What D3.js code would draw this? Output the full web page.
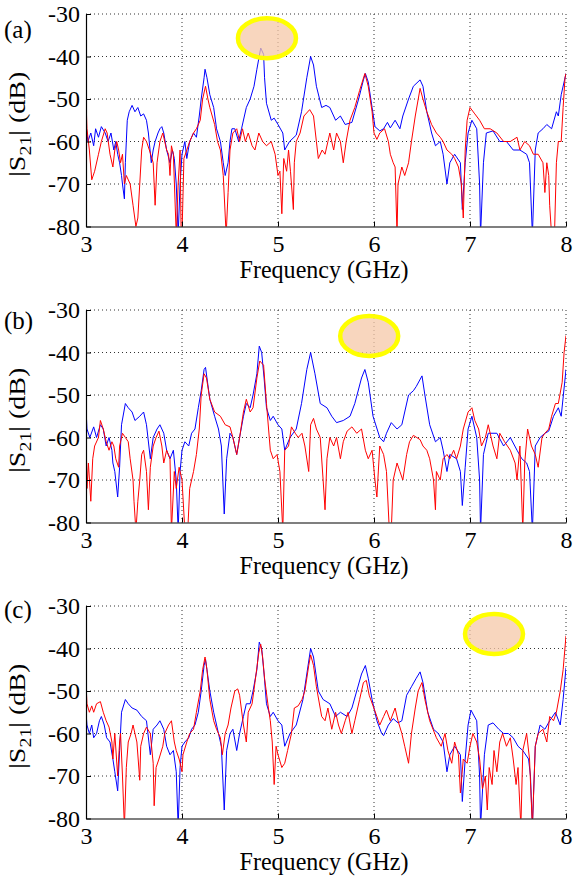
<!DOCTYPE html>
<html><head><meta charset="utf-8">
<script src="https://cdn.jsdelivr.net/npm/d3@7"></script>
<style>
body{margin:0;background:#fff}
svg{display:block}
text{font-family:"Liberation Serif","Times New Roman",Times,"DejaVu Serif","Noto Serif",serif;fill:#000}
</style>
</head><body>
<svg id="chart" width="573" height="879"></svg>
<script>
// ---------- data ----------
const panelLabels = ["(a)", "(b)", "(c)"];
const xTicks = [3, 4, 5, 6, 7, 8];
const yTicks = [-30, -40, -50, -60, -70, -80];
const xTitle = "Frequency (GHz)";
// highlighted ellipse centres (GHz, dB)
const markF = [4.885, 5.95, 7.25];
const markDb = [-35.7, -36.1, -36.6];

const aBlue = [[3.00,-56],[3.02,-60],[3.05,-58],[3.08,-61],[3.10,-57],[3.13,-59],[3.16,-56.5],[3.20,-58],[3.23,-60],[3.26,-58],[3.29,-62],[3.31,-60],[3.33,-63],[3.35,-65],[3.37,-68],[3.38,-70],[3.40,-73.5],[3.41,-65],[3.42,-60],[3.43,-55],[3.45,-53],[3.48,-51.5],[3.51,-53],[3.54,-52],[3.57,-54],[3.60,-53.5],[3.63,-55],[3.65,-58],[3.68,-65],[3.70,-62],[3.72,-60],[3.75,-58],[3.77,-57],[3.79,-56.5],[3.81,-58],[3.84,-62],[3.875,-65],[3.90,-62],[3.92,-64],[3.94,-70],[3.96,-82],[3.98,-70],[4.00,-63],[4.03,-60],[4.05,-64],[4.08,-60],[4.12,-58],[4.15,-59],[4.18,-54],[4.20,-50],[4.23,-45],[4.24,-43],[4.26,-45],[4.29,-49],[4.33,-52],[4.36,-57],[4.40,-60],[4.43,-65],[4.45,-68],[4.48,-65],[4.50,-60],[4.52,-57],[4.55,-57],[4.59,-60],[4.62,-57],[4.67,-52],[4.71,-50],[4.75,-47],[4.78,-43],[4.82,-38],[4.85,-39.5],[4.86,-45],[4.88,-51],[4.93,-55],[4.96,-54.5],[5.00,-56],[5.05,-58],[5.07,-62],[5.12,-60],[5.19,-58.5],[5.245,-53],[5.30,-45],[5.34,-40],[5.37,-42],[5.40,-47],[5.455,-52],[5.50,-51.5],[5.54,-52],[5.60,-55],[5.65,-54],[5.70,-56],[5.77,-55.5],[5.84,-50],[5.89,-45.5],[5.91,-44],[5.94,-46],[5.98,-52],[6.01,-56.5],[6.06,-57.5],[6.10,-57],[6.14,-55.5],[6.17,-56.8],[6.22,-55],[6.27,-57],[6.30,-54],[6.36,-50],[6.41,-47],[6.48,-45.5],[6.51,-47],[6.55,-53],[6.60,-58],[6.64,-61],[6.69,-60],[6.72,-63],[6.76,-70],[6.79,-65],[6.84,-63],[6.90,-65],[6.92,-76],[6.95,-65],[6.98,-58],[7.02,-55],[7.07,-57],[7.10,-70],[7.11,-82],[7.14,-65],[7.17,-58],[7.24,-57.5],[7.31,-60],[7.38,-60],[7.45,-62],[7.52,-62],[7.59,-63],[7.62,-65],[7.65,-82],[7.68,-62],[7.71,-58],[7.76,-57],[7.80,-56],[7.85,-57],[7.90,-53],[7.92,-54],[7.95,-49],[8.00,-44]];
const aRed = [[3.00,-50],[3.01,-57],[3.035,-62],[3.06,-69],[3.09,-67],[3.13,-63],[3.16,-60],[3.20,-57],[3.22,-58],[3.25,-63],[3.28,-66],[3.30,-62],[3.32,-60],[3.34,-62],[3.36,-65],[3.38,-63],[3.40,-70],[3.42,-68],[3.46,-70],[3.49,-75],[3.52,-80],[3.54,-78],[3.56,-70],[3.58,-62],[3.60,-59],[3.63,-60],[3.66,-62],[3.70,-65],[3.72,-75],[3.74,-65],[3.77,-60],[3.80,-58],[3.84,-62],[3.86,-63],[3.875,-68],[3.89,-61],[3.91,-63],[3.94,-82],[3.96,-70],[3.98,-62],[3.99,-80],[4.00,-82],[4.02,-64],[4.05,-62],[4.08,-60],[4.12,-58],[4.15,-57],[4.19,-55],[4.215,-50],[4.245,-47],[4.27,-50],[4.29,-52],[4.34,-56],[4.37,-60],[4.40,-62],[4.43,-68],[4.46,-82],[4.48,-72],[4.50,-62],[4.53,-58],[4.57,-57],[4.60,-60],[4.63,-57],[4.66,-60],[4.69,-58],[4.73,-61],[4.76,-62],[4.80,-58],[4.84,-60],[4.88,-61],[4.93,-60],[4.97,-63],[5.00,-68],[5.02,-67],[5.04,-77],[5.06,-64],[5.09,-67],[5.11,-62],[5.13,-67],[5.16,-76],[5.17,-65],[5.19,-60],[5.23,-58],[5.27,-54],[5.33,-52.5],[5.37,-54],[5.40,-60],[5.42,-64],[5.46,-62],[5.49,-63],[5.52,-60],[5.54,-58],[5.58,-62],[5.61,-58],[5.65,-60],[5.68,-65],[5.71,-60],[5.75,-55],[5.80,-52],[5.85,-48],[5.905,-44],[5.94,-47],[5.98,-53],[6.00,-58],[6.03,-59.5],[6.06,-58],[6.11,-57],[6.15,-60],[6.17,-63],[6.20,-65],[6.22,-66],[6.24,-82],[6.25,-70],[6.29,-66],[6.32,-68],[6.36,-65],[6.39,-60],[6.43,-54],[6.48,-47.5],[6.51,-50],[6.55,-53],[6.60,-56],[6.65,-58],[6.69,-59],[6.72,-60],[6.76,-62],[6.81,-63],[6.84,-64],[6.88,-66],[6.91,-70],[6.93,-78],[6.95,-62],[6.97,-55],[7.00,-52],[7.05,-53.5],[7.10,-55],[7.15,-57],[7.21,-57],[7.28,-58],[7.35,-60],[7.42,-60],[7.49,-59],[7.52,-62],[7.57,-60],[7.62,-61],[7.66,-63],[7.71,-63],[7.76,-65],[7.78,-72],[7.80,-65],[7.82,-68],[7.83,-75],[7.85,-82],[7.88,-82],[7.90,-65],[7.92,-60],[7.95,-60],[7.97,-52],[7.99,-45],[8.00,-44]];

const bBlue = [[3.00,-53],[3.01,-58],[3.04,-60],[3.08,-57.5],[3.11,-60],[3.15,-57],[3.18,-58],[3.21,-62],[3.24,-60],[3.27,-63],[3.28,-66],[3.30,-68],[3.33,-74],[3.35,-67],[3.37,-57],[3.41,-52],[3.44,-53],[3.48,-54],[3.51,-56],[3.56,-55],[3.60,-54],[3.63,-57],[3.67,-65],[3.70,-60],[3.74,-58],[3.77,-57],[3.81,-59],[3.84,-63],[3.875,-65],[3.91,-63],[3.94,-70],[3.96,-82],[3.98,-68],[4.00,-63],[4.03,-61],[4.07,-62],[4.10,-59],[4.135,-58],[4.17,-53],[4.20,-49],[4.23,-44],[4.245,-43.5],[4.26,-46],[4.29,-51],[4.34,-55],[4.38,-58],[4.41,-62],[4.44,-78],[4.465,-65],[4.50,-59],[4.53,-60],[4.57,-64],[4.60,-60],[4.64,-55],[4.67,-52],[4.71,-53],[4.74,-50],[4.78,-45],[4.805,-38.5],[4.83,-40],[4.855,-46],[4.88,-53],[4.92,-56],[4.95,-55],[5.00,-57],[5.04,-58],[5.07,-63],[5.125,-60],[5.19,-58],[5.245,-52],[5.30,-44],[5.34,-40],[5.385,-45],[5.44,-52],[5.51,-53],[5.56,-55],[5.61,-56.5],[5.68,-56],[5.75,-55],[5.80,-52],[5.87,-46],[5.905,-44],[5.94,-47],[5.99,-55],[6.06,-60],[6.10,-61],[6.13,-59],[6.18,-56.5],[6.24,-58],[6.29,-57],[6.36,-50],[6.41,-49],[6.44,-48],[6.50,-45.5],[6.53,-50],[6.58,-57],[6.64,-61],[6.69,-60],[6.72,-63],[6.76,-68],[6.79,-64],[6.86,-65],[6.90,-68],[6.92,-76],[6.95,-67],[6.98,-58],[7.02,-55],[7.07,-60],[7.10,-70],[7.11,-82],[7.14,-64],[7.19,-59],[7.28,-59],[7.35,-62],[7.42,-60],[7.49,-63],[7.54,-65],[7.59,-66],[7.62,-68],[7.65,-82],[7.68,-62],[7.73,-60],[7.78,-59],[7.82,-58.5],[7.87,-55],[7.92,-53],[7.95,-55],[8.00,-44]];
const bRed = [[3.00,-58],[3.01,-72],[3.025,-66],[3.05,-75],[3.07,-65],[3.09,-62],[3.13,-60],[3.15,-56],[3.18,-58],[3.21,-61],[3.24,-63],[3.27,-61],[3.29,-62],[3.31,-65],[3.34,-67],[3.35,-62],[3.38,-59],[3.41,-60],[3.44,-61],[3.46,-65],[3.49,-70],[3.50,-75],[3.52,-82],[3.54,-75],[3.56,-70],[3.58,-64],[3.60,-63],[3.63,-68],[3.65,-77],[3.67,-67],[3.70,-62],[3.73,-60],[3.76,-58.5],[3.79,-62],[3.81,-66],[3.84,-63],[3.875,-65],[3.89,-82],[3.92,-68],[3.94,-72],[3.97,-67],[4.00,-70],[4.03,-82],[4.06,-82],[4.08,-72],[4.12,-68],[4.15,-64],[4.18,-58],[4.20,-50],[4.23,-45],[4.255,-46],[4.29,-51],[4.34,-54],[4.40,-55],[4.45,-57],[4.50,-57.5],[4.53,-60],[4.57,-64],[4.60,-60],[4.64,-54],[4.67,-51],[4.71,-54],[4.74,-53],[4.78,-46],[4.81,-42],[4.85,-43],[4.88,-52],[4.92,-63],[4.95,-65],[4.99,-64],[5.02,-68],[5.05,-82],[5.07,-63],[5.11,-62],[5.14,-57.5],[5.18,-59],[5.21,-60],[5.25,-59],[5.28,-62],[5.32,-68],[5.34,-57],[5.37,-55.5],[5.40,-58],[5.44,-60],[5.47,-70],[5.49,-77],[5.51,-65],[5.54,-60],[5.58,-62],[5.61,-60],[5.65,-65],[5.68,-61],[5.72,-58.5],[5.77,-57.5],[5.82,-59],[5.87,-58],[5.91,-63],[5.94,-65],[5.98,-63],[6.01,-70],[6.03,-74],[6.06,-62],[6.10,-64],[6.13,-68],[6.16,-82],[6.18,-82],[6.20,-70],[6.24,-66],[6.27,-68],[6.30,-70],[6.34,-64],[6.37,-61],[6.41,-59.5],[6.48,-60.5],[6.51,-62],[6.55,-63],[6.58,-65],[6.62,-70],[6.64,-77],[6.65,-68],[6.69,-70],[6.72,-65],[6.76,-64],[6.79,-65],[6.83,-63],[6.86,-65],[6.90,-62],[6.93,-58],[6.98,-54],[7.02,-53],[7.05,-56],[7.09,-58],[7.12,-62],[7.16,-60],[7.19,-57],[7.24,-62],[7.28,-65],[7.31,-59],[7.36,-61],[7.42,-63],[7.47,-66],[7.49,-70],[7.52,-62],[7.55,-82],[7.57,-66],[7.60,-58],[7.64,-62],[7.68,-64],[7.71,-67],[7.75,-60],[7.78,-59],[7.82,-58],[7.85,-55],[7.89,-52],[7.92,-52],[7.96,-47],[7.98,-40],[8.00,-36]];

const cBlue = [[3.00,-55],[3.01,-58],[3.035,-60],[3.06,-58],[3.08,-61],[3.11,-60],[3.14,-57],[3.16,-56],[3.19,-58],[3.215,-61],[3.25,-62],[3.28,-66],[3.30,-69],[3.33,-73.5],[3.35,-64],[3.37,-55],[3.41,-52],[3.44,-53],[3.48,-54],[3.53,-54.5],[3.58,-56],[3.63,-57],[3.67,-65],[3.70,-59],[3.74,-58],[3.77,-57],[3.81,-59],[3.84,-63],[3.875,-65],[3.91,-64],[3.94,-69],[3.96,-82],[3.98,-68],[4.00,-63],[4.03,-62],[4.07,-61],[4.10,-59],[4.135,-58],[4.17,-55],[4.20,-50],[4.23,-44],[4.245,-42.5],[4.26,-45],[4.29,-50],[4.33,-55],[4.38,-60],[4.41,-63],[4.44,-78],[4.465,-64],[4.50,-60],[4.53,-59],[4.57,-64],[4.60,-60],[4.64,-56],[4.67,-53],[4.71,-53],[4.74,-50],[4.78,-45],[4.805,-38.5],[4.83,-40],[4.855,-46],[4.88,-53],[4.92,-56],[4.95,-55],[5.00,-57],[5.04,-58],[5.07,-63],[5.125,-60],[5.19,-58],[5.26,-52],[5.30,-46],[5.34,-40],[5.37,-42],[5.42,-50],[5.47,-52],[5.54,-53],[5.60,-56],[5.65,-55],[5.72,-56],[5.77,-54],[5.82,-50],[5.87,-46],[5.91,-44],[5.94,-47],[5.98,-52],[6.03,-57],[6.08,-60],[6.10,-60.5],[6.15,-58],[6.20,-56.5],[6.25,-57.5],[6.29,-57],[6.34,-51],[6.39,-49],[6.44,-47],[6.48,-45.5],[6.51,-48],[6.56,-55],[6.62,-59],[6.67,-60],[6.72,-62],[6.76,-69],[6.79,-65],[6.84,-63],[6.90,-65],[6.92,-76],[6.95,-66],[6.98,-58],[7.01,-54.5],[7.07,-57],[7.10,-70],[7.11,-82],[7.15,-65],[7.19,-58],[7.24,-57.5],[7.30,-59],[7.35,-60],[7.40,-60],[7.45,-61],[7.50,-63],[7.55,-64],[7.61,-66],[7.63,-70],[7.65,-82],[7.68,-63],[7.73,-58],[7.78,-59],[7.83,-57],[7.89,-55],[7.94,-58],[7.97,-52],[8.00,-44.5]];
const cRed = [[3.00,-48],[3.01,-53],[3.035,-55],[3.06,-53.5],[3.08,-55],[3.11,-53],[3.15,-52.5],[3.18,-55],[3.21,-57],[3.24,-58.5],[3.27,-62],[3.28,-66],[3.30,-60],[3.33,-70],[3.35,-62],[3.36,-60],[3.38,-70],[3.40,-82],[3.42,-68],[3.44,-62],[3.47,-60],[3.49,-58],[3.53,-62],[3.56,-71],[3.57,-63],[3.60,-60],[3.63,-58.5],[3.67,-60],[3.70,-67],[3.71,-77],[3.73,-68],[3.76,-66],[3.80,-63],[3.82,-60],[3.86,-58],[3.89,-57],[3.92,-62],[3.94,-64],[3.97,-66],[4.00,-69],[4.01,-65],[4.05,-62],[4.08,-60],[4.12,-59],[4.15,-55],[4.19,-50],[4.215,-45],[4.24,-42],[4.26,-45],[4.29,-52],[4.33,-57],[4.36,-59],[4.40,-61],[4.42,-65],[4.45,-60],[4.48,-58],[4.51,-54],[4.55,-50],[4.58,-49.5],[4.60,-51],[4.64,-58],[4.67,-62],[4.69,-55],[4.73,-53],[4.76,-48],[4.80,-41],[4.82,-39],[4.84,-42],[4.86,-47],[4.90,-54],[4.92,-57],[4.94,-62],[4.96,-72],[4.98,-63],[5.00,-65],[5.04,-68],[5.07,-67],[5.10,-64],[5.14,-60],[5.17,-54],[5.21,-53.5],[5.25,-52],[5.28,-50],[5.32,-44],[5.34,-41.5],[5.37,-44],[5.40,-49],[5.455,-56],[5.49,-57],[5.52,-54],[5.56,-59],[5.60,-55],[5.63,-58],[5.66,-60],[5.70,-57],[5.73,-55],[5.77,-60],[5.80,-57],[5.85,-52],[5.89,-48],[5.92,-47.5],[5.95,-51],[5.99,-53.5],[6.03,-56],[6.06,-58],[6.10,-56],[6.13,-54.5],[6.17,-57],[6.22,-54],[6.25,-57],[6.29,-60],[6.32,-63],[6.36,-67],[6.39,-60],[6.43,-54],[6.46,-50],[6.50,-48],[6.53,-52],[6.58,-57],[6.65,-61],[6.70,-63],[6.74,-60],[6.77,-64],[6.81,-67],[6.84,-62],[6.88,-65],[6.90,-74],[6.93,-66],[6.97,-67],[7.00,-63],[7.03,-60],[7.07,-62],[7.10,-66],[7.13,-73],[7.16,-70],[7.18,-78],[7.20,-68],[7.23,-72],[7.25,-64],[7.28,-69],[7.31,-62],[7.34,-60],[7.38,-63],[7.42,-61],[7.45,-66],[7.48,-72],[7.50,-68],[7.53,-82],[7.55,-64],[7.59,-60],[7.62,-66],[7.65,-82],[7.68,-63],[7.71,-60],[7.76,-59],[7.80,-62],[7.83,-56],[7.87,-57],[7.90,-55],[7.94,-50],[7.97,-45],[8.00,-37]];

const blueSeries = [aBlue, bBlue, cBlue];
const redSeries = [aRed, bRed, cRed];

// ---------- layout ----------
const L = 86, R = 566;
const tops = [14, 310, 606];
const PH = 212.5;
const FONT = "'Liberation Serif','Times New Roman',Times,'DejaVu Serif','Noto Serif',serif";

const svg = d3.select("#chart");
const line = (x, y) => d3.line().x(d => x(d[0])).y(d => y(d[1]));

tops.forEach((top, i) => {
  const bottom = top + PH;
  const x = d3.scaleLinear().domain([3, 8]).range([L, R]);
  const y = d3.scaleLinear().domain([-80, -30]).range([bottom, top]);
  const g = svg.append("g");

  g.append("clipPath").attr("id", "clip" + i)
    .append("rect").attr("x", L).attr("y", top).attr("width", R - L).attr("height", PH);

  // dotted grid
  g.append("g").selectAll("line").data(xTicks.filter(t => t !== 3)).join("line")
    .attr("x1", d => x(d)).attr("x2", d => x(d)).attr("y1", top).attr("y2", bottom)
    .attr("stroke", "#333").attr("stroke-width", 1).attr("stroke-dasharray", "1,3");
  g.append("g").selectAll("line").data(yTicks.filter(t => t !== -80)).join("line")
    .attr("x1", L).attr("x2", R).attr("y1", d => y(d)).attr("y2", d => y(d))
    .attr("stroke", "#333").attr("stroke-width", 1).attr("stroke-dasharray", "1,3");

  // curves
  const cg = g.append("g").attr("clip-path", `url(#clip${i})`);
  cg.append("path").datum(blueSeries[i]).attr("d", line(x, y))
    .attr("fill", "none").attr("stroke", "#0000ff").attr("stroke-width", 1);
  cg.append("path").datum(redSeries[i]).attr("d", line(x, y))
    .attr("fill", "none").attr("stroke", "#ff0000").attr("stroke-width", 1);

  // highlight ellipse
  g.append("ellipse").attr("cx", x(markF[i])).attr("cy", y(markDb[i]))
    .attr("rx", 29).attr("ry", 20)
    .attr("fill", "#f5c8a8").attr("fill-opacity", 0.75)
    .attr("stroke", "#ffff00").attr("stroke-width", 4.5);

  // axes
  const xa = g.append("g").attr("transform", `translate(0,${bottom})`)
    .call(d3.axisBottom(x).tickValues(xTicks).tickFormat(d => String(d))
      .tickSizeInner(-5).tickSizeOuter(0).tickPadding(8));
  const ya = g.append("g").attr("transform", `translate(${L},0)`)
    .call(d3.axisLeft(y).tickValues(yTicks).tickFormat(d => String(d))
      .tickSizeInner(-5).tickSizeOuter(0).tickPadding(6));
  [xa, ya].forEach(a => {
    a.attr("font-family", FONT).attr("font-size", 24);
    a.select(".domain").attr("stroke", "#000").attr("stroke-width", 1.2);
    a.selectAll(".tick line").attr("stroke", "#000");
    a.selectAll("text").style("font-family", FONT)
      .style("font-size", "24px").attr("fill", "#000");
  });

  // titles
  g.append("text").attr("x", (L + R) / 2 - 2).attr("y", bottom + 51)
    .attr("text-anchor", "middle").style("font-family", FONT).style("font-size", "25px")
    .attr("textLength", 169).attr("lengthAdjust", "spacingAndGlyphs")
    .text(xTitle);

  const yl = g.append("text")
    .attr("transform", `translate(25,${(top + bottom) / 2 + 4}) rotate(-90)`)
    .attr("text-anchor", "middle").style("font-family", FONT).style("font-size", "24px")
    .attr("textLength", 105).attr("lengthAdjust", "spacingAndGlyphs");
  yl.append("tspan").text("|S");
  yl.append("tspan").style("font-size", "17px").attr("dy", 6).text("21");
  yl.append("tspan").attr("dy", -6).text("| (dB)");

  g.append("text").attr("x", 4).attr("y", [38, 329, 618][i])
    .style("font-family", FONT).style("font-size", "25px").text(panelLabels[i]);
});
</script>
</body></html>
